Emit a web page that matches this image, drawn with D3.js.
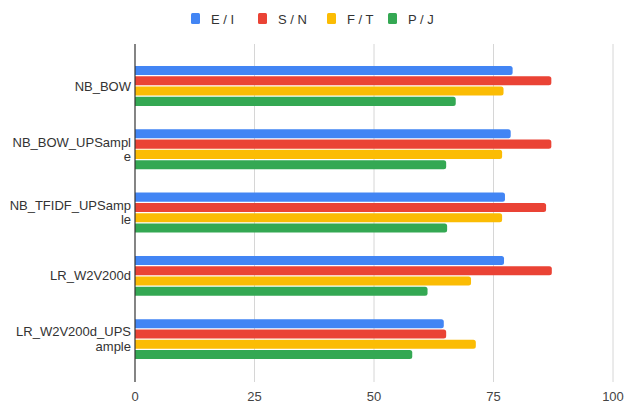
<!DOCTYPE html>
<html>
<head>
<meta charset="utf-8">
<script src="https://cdn.jsdelivr.net/npm/d3@7"></script>
<style>
  body { margin: 0; background: #fff; }
  text { font-family: Arial, "Liberation Sans", sans-serif; }
</style>
</head>
<body>
<script>
// Data
var categories = ["NB_BOW", "NB_BOW_UPSample", "NB_TFIDF_UPSample", "LR_W2V200d", "LR_W2V200d_UPSample"];
// how the labels wrap in the picture
var labelLines = [["NB_BOW"], ["NB_BOW_UPSampl", "e"], ["NB_TFIDF_UPSamp", "le"], ["LR_W2V200d"], ["LR_W2V200d_UPS", "ample"]];
var seriesNames = ["E / I", "S / N", "F / T", "P / J"];
var seriesEI = [79.0, 78.6, 77.4, 77.2, 64.6];
var seriesSN = [87.1, 87.1, 86.0, 87.2, 65.1];
var seriesFT = [77.1, 76.8, 76.8, 70.3, 71.3];
var seriesPJ = [67.1, 65.1, 65.3, 61.2, 58.0];
var tickValues = [0, 25, 50, 75, 100];
var colors = ["#4285F4", "#EA4335", "#FBBC04", "#34A853"];

var allSeries = [seriesEI, seriesSN, seriesFT, seriesPJ];

// Dimensions
var width = 630;
var height = 407;

var svg = d3.select("body")
  .append("svg")
  .attr("width", width)
  .attr("height", height);

// Scales
var x = d3.scaleLinear().domain([0, 100]).range([135, 613]);

var y = d3.scaleBand()
  .domain(categories)
  .range([54.3, 370.8])
  .paddingInner(0.37)
  .paddingOuter(0.185);

var ySub = d3.scaleBand()
  .domain(d3.range(seriesNames.length))
  .range([0, y.bandwidth()])
  .paddingInner(0.12);

// Gridlines
svg.append("g")
  .selectAll("line")
  .data(tickValues.slice(1))
  .enter()
  .append("line")
  .attr("x1", function (d) { return x(d); })
  .attr("x2", function (d) { return x(d); })
  .attr("y1", 44)
  .attr("y2", 382)
  .attr("stroke", "#d6d6d6")
  .attr("stroke-width", 1);

// Tick labels
svg.append("g")
  .selectAll("text")
  .data(tickValues)
  .enter()
  .append("text")
  .attr("x", function (d) { return x(d); })
  .attr("y", 401)
  .attr("text-anchor", "middle")
  .attr("font-size", 13)
  .attr("fill", "#444")
  .text(function (d) { return d; });

// Bars
var groups = svg.append("g")
  .selectAll("g")
  .data(categories)
  .enter()
  .append("g")
  .attr("transform", function (d) { return "translate(0," + y(d) + ")"; });

groups.each(function (cat, ci) {
  var g = d3.select(this);
  allSeries.forEach(function (s, si) {
    var x0 = x(0), x1 = x(s[ci]);
    var h = ySub.bandwidth();
    var r = 2.5;
    var top = ySub(si);
    // square left end, rounded right end
    var path = "M" + x0 + "," + top +
      "H" + (x1 - r) +
      "A" + r + "," + r + " 0 0 1 " + x1 + "," + (top + r) +
      "V" + (top + h - r) +
      "A" + r + "," + r + " 0 0 1 " + (x1 - r) + "," + (top + h) +
      "H" + x0 + "Z";
    g.append("path").attr("d", path).attr("fill", colors[si]);
  });
});

// Zero line
svg.append("line")
  .attr("x1", x(0)).attr("x2", x(0))
  .attr("y1", 44).attr("y2", 382)
  .attr("stroke", "#333")
  .attr("stroke-width", 1.2);

// Category labels
var lineH = 14.5;
svg.append("g")
  .selectAll("text")
  .data(categories)
  .enter()
  .append("text")
  .attr("text-anchor", "end")
  .attr("font-size", 13)
  .attr("fill", "#333")
  .each(function (d, i) {
    var lines = labelLines[i];
    var cy = y(d) + y.bandwidth() / 2;
    var first = cy - (lines.length - 1) * lineH / 2;
    var t = d3.select(this);
    lines.forEach(function (l, li) {
      t.append("tspan")
        .attr("x", 131)
        .attr("y", first + li * lineH)
        .attr("dy", "0.35em")
        .text(l);
    });
  });

// Legend
var legendX = [191, 258, 327, 388];
var legend = svg.append("g")
  .selectAll("g")
  .data(seriesNames)
  .enter()
  .append("g")
  .attr("transform", function (d, i) { return "translate(" + legendX[i] + ",13)"; });

legend.append("rect")
  .attr("width", 9)
  .attr("height", 11)
  .attr("rx", 1.5)
  .attr("fill", function (d, i) { return colors[i]; });

legend.append("text")
  .attr("x", 20)
  .attr("y", 10.5)
  .attr("font-size", 13)
  .attr("fill", "#333")
  .text(function (d) { return d; });
</script>
</body>
</html>
